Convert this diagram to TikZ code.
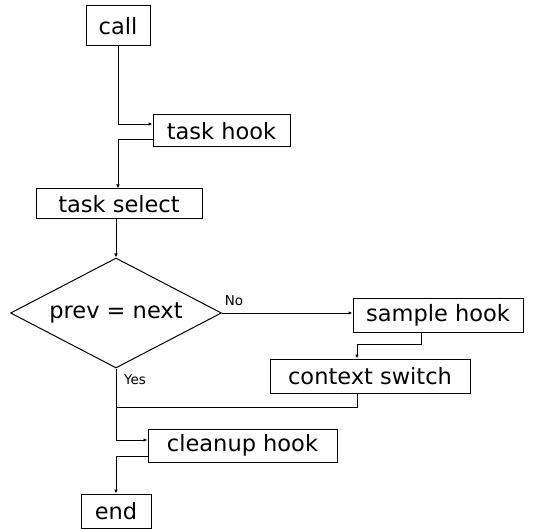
\documentclass[tikz,border=0pt]{standalone}
\usepackage{fontspec}
\setmainfont{DejaVu Sans}
\usetikzlibrary{shapes.geometric,arrows.meta}
\begin{document}
\begin{tikzpicture}[x=1pt,y=-1pt,
  box/.style={draw, line width=1pt, inner sep=0pt, font=\fontsize{22.5}{26}\selectfont},
  dec/.style={draw, diamond, shape aspect=1.9, line width=1pt, inner sep=0pt, font=\fontsize{22.5}{26}\selectfont},
  conn/.style={line width=0.9pt},
  arr/.style={conn, -{Latex[length=4pt,width=3.5pt]}},
  lbl/.style={font=\fontsize{13.5}{16}\selectfont, inner sep=0pt}]
\useasboundingbox (0,0) rectangle (538,529);
\node[box, minimum width=64pt, minimum height=40pt] (call) at (118,26) {call};
\node[box, minimum width=137pt, minimum height=32pt] (thook) at (221.5,131) {task hook};
\node[box, minimum width=166pt, minimum height=30pt] (tsel) at (119,204) {task select};
\node[dec, minimum width=211pt, minimum height=110pt] (cmp) at (116,313) {prev = next};
\node[box, minimum width=170pt, minimum height=33pt] (shook) at (438,315.5) {sample hook};
\node[box, minimum width=200pt, minimum height=34pt] (ctx) at (370,376) {context switch};
\node[box, minimum width=189pt, minimum height=33pt] (clean) at (242.5,445.5) {cleanup hook};
\node[box, minimum width=70pt, minimum height=34pt] (end) at (116,511) {end};
\node[lbl] (no) at (234,301) {No};
\node[lbl] (yes) at (135,380) {Yes};
\coordinate (join) at (116,407);
\draw[arr] (call.south) |- ([yshift=7pt]thook.west);
\draw[arr] ([yshift=-8pt]thook.west) -| (tsel.north -| call.south);
\draw[arr] (tsel.south -| cmp.north) -- (cmp.north);
\draw[arr] (cmp.east) -- (cmp.east -| shook.west);
\draw[arr] ([xshift=-17pt]shook.south) -- ++(0,12) -| ([xshift=-13pt]ctx.north);
\draw[conn] ([xshift=-13pt]ctx.south) |- (join);
\draw[arr] (cmp.south) |- ([yshift=5.5pt]clean.west);
\draw[arr] ([yshift=-10.5pt]clean.west) -| (end.north);
\end{tikzpicture}
\end{document}
